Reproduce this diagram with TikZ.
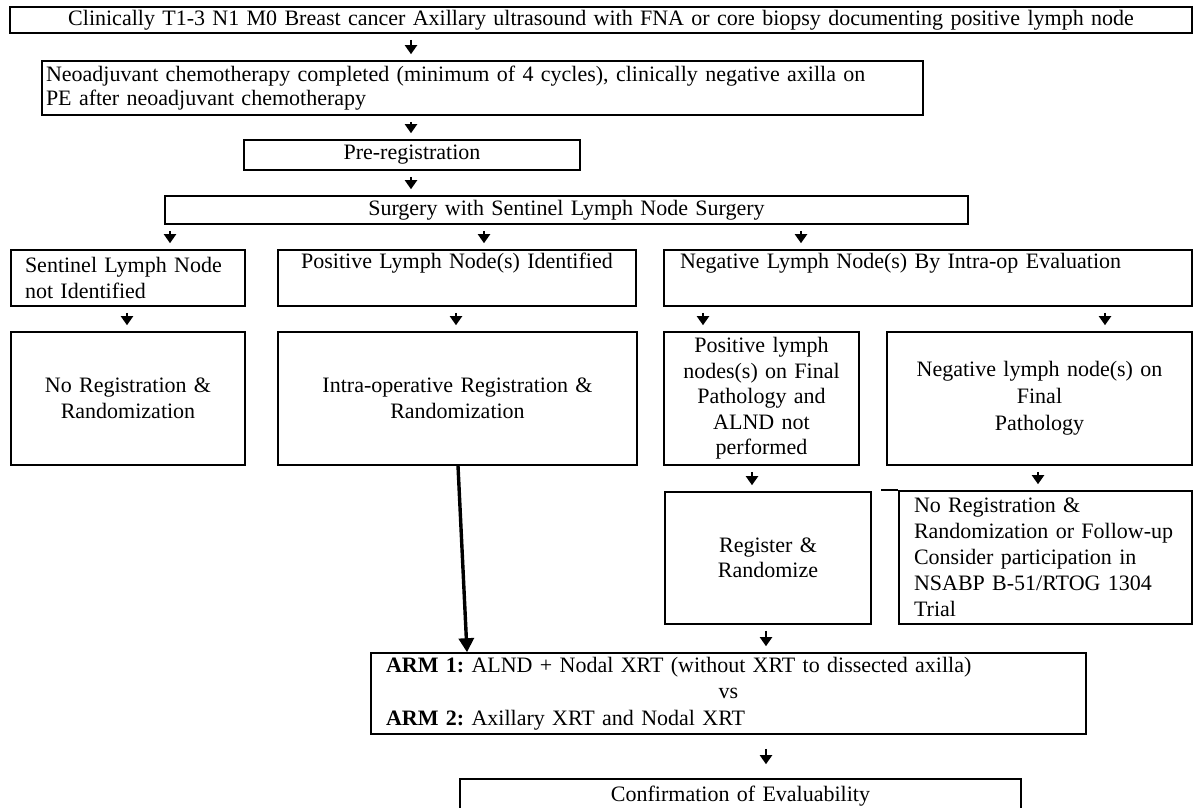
\documentclass[tikz,border=0pt]{standalone}
\usepackage{fontspec}
\setmainfont{Liberation Serif}
\usetikzlibrary{arrows.meta}
\frenchspacing
\begin{document}
\begin{tikzpicture}[x=1pt,y=-1pt,
  box/.style={draw, line width=1.6pt, inner sep=0pt, font=\fontsize{22}{26}\selectfont},
  arr/.style={line width=2pt, -{Triangle[length=9pt,width=12pt]}, shorten <=6pt, shorten >=6pt},
  bigarr/.style={line width=3.4pt, -{Triangle[length=14pt,width=15pt]}, shorten >=0pt},
]
\useasboundingbox (0,0) rectangle (1194,807);
% boxes
\node[box, minimum width=1182, minimum height=26, text width=1150, align=center] (b1) at (601,20)
  {Clinically T1-3 N1 M0 Breast cancer Axillary ultrasound with FNA or core biopsy documenting positive lymph node};
\node[box, minimum width=881, minimum height=54, text width=873, align=left, font=\fontsize{22}{24}\selectfont] (b2) at (482.5,88)
  {Neoadjuvant chemotherapy completed (minimum of 4 cycles), clinically negative axilla on\\PE after neoadjuvant chemotherapy};
\node[box, minimum width=336, minimum height=30, text width=320, align=center] (pre) at (412,155) {Pre-registration};
\node[box, minimum width=803, minimum height=28, text width=780, align=center] (surg) at (566.5,210) {Surgery with Sentinel Lymph Node Surgery};
\node[box, minimum width=234, minimum height=56, text width=206, align=left] (a) at (128,278) {Sentinel Lymph Node\\not Identified};
\node[box, minimum width=358, minimum height=56, text width=340, align=center] (b) at (457,278) {Positive Lymph Node(s) Identified\\\strut};
\node[box, minimum width=528, minimum height=56, text width=496, align=left] (c) at (928,278) {Negative Lymph Node(s) By Intra-op Evaluation\\\strut};
\node[box, minimum width=234, minimum height=133, text width=220, align=center] (d) at (128,398.5) {No Registration \&\\Randomization};
\node[box, minimum width=359, minimum height=133, text width=345, align=center] (e) at (457.5,398.5) {Intra-operative Registration \&\\Randomization};
\node[box, minimum width=195, minimum height=133, text width=190, align=center, font=\fontsize{22}{25.5}\selectfont] (f) at (761.5,398.5) {Positive lymph\\nodes(s) on Final\\Pathology and\\ALND not\\performed};
\node[box, minimum width=305, minimum height=133, text width=290, align=center, font=\fontsize{22}{27}\selectfont] (g) at (1039.5,398.5) {Negative lymph node(s) on\\Final\\Pathology};
\node[box, minimum width=206, minimum height=132, text width=190, align=center, font=\fontsize{22}{25}\selectfont] (reg) at (768,558) {Register \&\\Randomize};
\node[box, minimum width=293, minimum height=133, text width=263, align=left] (noreg) at (1045.5,557.5) {No Registration \&\\Randomization or Follow-up\\Consider participation in\\NSABP B-51/RTOG 1304\\Trial};
\draw[line width=1.6pt] (noreg.north west) -- ++(-17,0);
\node[box, minimum width=715, minimum height=81, text width=685, align=left, font=\fontsize{22}{26.5}\selectfont] (arm) at (728.5,693.5)
  {\textbf{ARM 1:} ALND + Nodal XRT (without XRT to dissected axilla)\\\centering vs\\\raggedright\textbf{ARM 2:} Axillary XRT and Nodal XRT};
\node[box, minimum width=561, minimum height=35, text width=540, align=center] (conf) at (740.5,796.5) {Confirmation of Evaluability};
% connectors
\draw[arr] (411,0 |- b1.south) -- (411,0 |- b2.north);
\draw[arr] (411,0 |- b2.south) -- (411,0 |- pre.north);
\draw[arr] (411,0 |- pre.south) -- (411,0 |- surg.north);
\draw[arr] (170,0 |- surg.south) -- (170,0 |- a.north);
\draw[arr] (484,0 |- surg.south) -- (484,0 |- b.north);
\draw[arr] (801,0 |- surg.south) -- (801,0 |- c.north);
\draw[arr] (127,0 |- a.south) -- (127,0 |- d.north);
\draw[arr] (456,0 |- b.south) -- (456,0 |- e.north);
\draw[arr] (703,0 |- c.south) -- (703,0 |- f.north);
\draw[arr] (1105,0 |- c.south) -- (1105,0 |- g.north);
\draw[arr] (752,0 |- f.south) -- (752,0 |- reg.north);
\draw[arr] (1038,0 |- g.south) -- (1038,0 |- noreg.north);
\draw[arr] (766,0 |- reg.south) -- (766,0 |- arm.north);
\draw[arr, shorten <=14pt, shorten >=14pt] (766,0 |- arm.south) -- (766,0 |- conf.north);
\draw[bigarr] (458,0 |- e.south) -- (467,0 |- arm.north);
\end{tikzpicture}
\end{document}
